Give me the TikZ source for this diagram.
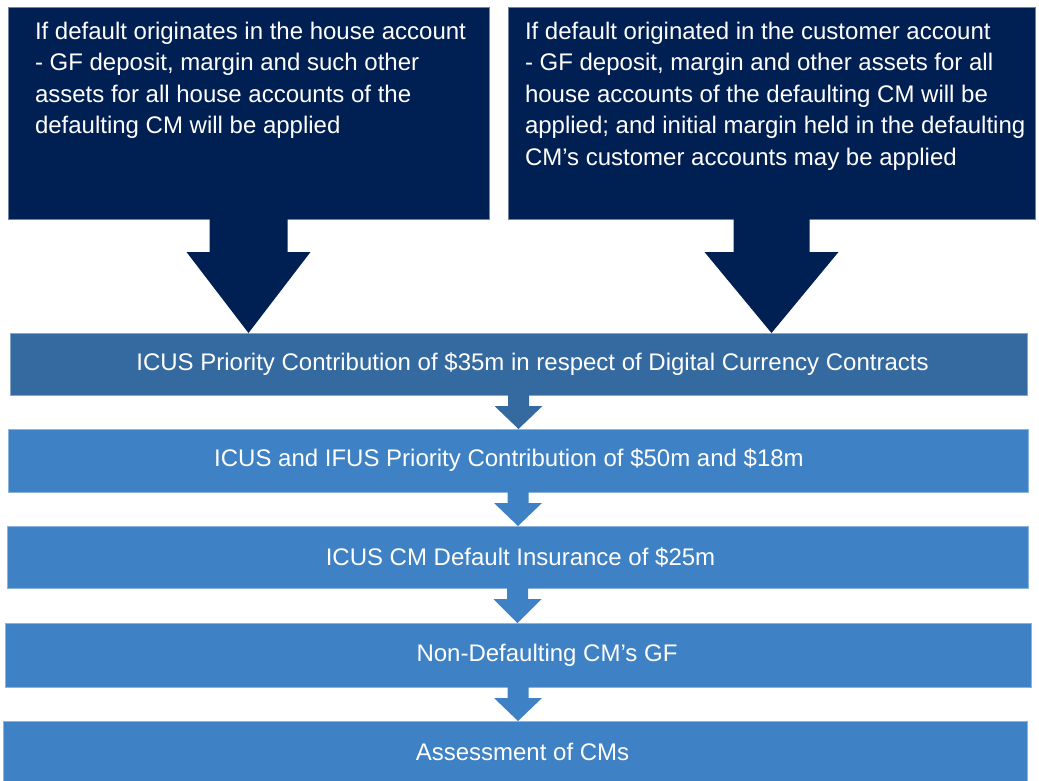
\documentclass[tikz,border=0pt]{standalone}
\usepackage{fontspec}
\setmainfont{Liberation Sans}
\usetikzlibrary{calc}

\definecolor{navybox}{HTML}{001F52}
\definecolor{darkbar}{HTML}{356AA0}
\definecolor{bar}{HTML}{3E81C4}

% fat down arrow: source, target, shaft half width, head half width, head length, colour
\newcommand{\blockarrow}[6]{%
  \fill[#6] let \p1=(#1.south), \p2=(#2.north) in
    (\x1-#3pt,\y1) -- (\x1-#3pt,\y2+#5pt) -- (\x1-#4pt,\y2+#5pt) -- (\x1,\y2)
    -- (\x1+#4pt,\y2+#5pt) -- (\x1+#3pt,\y2+#5pt) -- (\x1+#3pt,\y1) -- cycle;}

\begin{document}
\begin{tikzpicture}[x=1pt,y=-1pt,
  every node/.style={inner sep=0pt,outer sep=0pt,text=white,
    font=\fontsize{24}{31.5}\selectfont},
  topbox/.style={fill=navybox,draw=navybox!55!white,line width=0.6pt,
    minimum height=212pt,inner ysep=15pt},
  tier/.style={fill=bar,draw=bar!60!white,line width=0.6pt,minimum height=62pt}]
  \useasboundingbox (0,0) rectangle (1039,780);
  % where the default starts
  \node[topbox,minimum width=481pt,inner xsep=27pt] (house) at (248.5,113)
    {\parbox[c][182pt][t]{427pt}{\raggedright
      \mbox{If default originates in the house account}\\
      - GF deposit, margin and such other\\
      assets for all house accounts of the\\
      defaulting CM will be applied}};
  \node[topbox,minimum width=527pt,inner xsep=17pt] (customer) at (771.5,113)
    {\parbox[c][182pt][t]{493pt}{\raggedright
      If default originated in the customer account\\
      - GF deposit, margin and other assets for all\\
      house accounts of the defaulting CM will be\\
      \mbox{applied; and initial margin held in the defaulting}\\
      CM's customer accounts may be applied}};
  % waterfall
  \node[tier,fill=darkbar,draw=darkbar!60!white,minimum width=1017pt] (digital) at (518.5,364)
    {\hspace*{28pt}ICUS Priority Contribution of \$35m in respect of Digital Currency Contracts};
  \node[tier,minimum width=1020pt,minimum height=63pt] (priority) at (518,460.5)
    {\hspace*{-18pt}ICUS and IFUS Priority Contribution of \$50m and \$18m};
  \node[tier,minimum width=1021pt] (insurance) at (517.5,557)
    {\hspace*{6pt}ICUS CM Default Insurance of \$25m};
  \node[tier,minimum width=1026pt,minimum height=64pt] (nondefault) at (518,655)
    {\hspace*{58pt}Non-Defaulting CM's GF};
  \node[tier,minimum width=1024pt,minimum height=61pt] (assessment) at (515,751.5)
    {\hspace*{15pt}Assessment of CMs};
  % arrows
  \blockarrow{house}{digital}{39}{62}{81}{navybox}
  \blockarrow{customer}{digital}{38}{67}{81}{navybox}
  \blockarrow{digital}{priority}{10.5}{24}{23}{darkbar}
  \blockarrow{priority}{insurance}{10.5}{24}{23}{bar}
  \blockarrow{insurance}{nondefault}{10.5}{24}{24}{bar}
  \blockarrow{nondefault}{assessment}{10.5}{24}{23}{bar}
\end{tikzpicture}
\end{document}
